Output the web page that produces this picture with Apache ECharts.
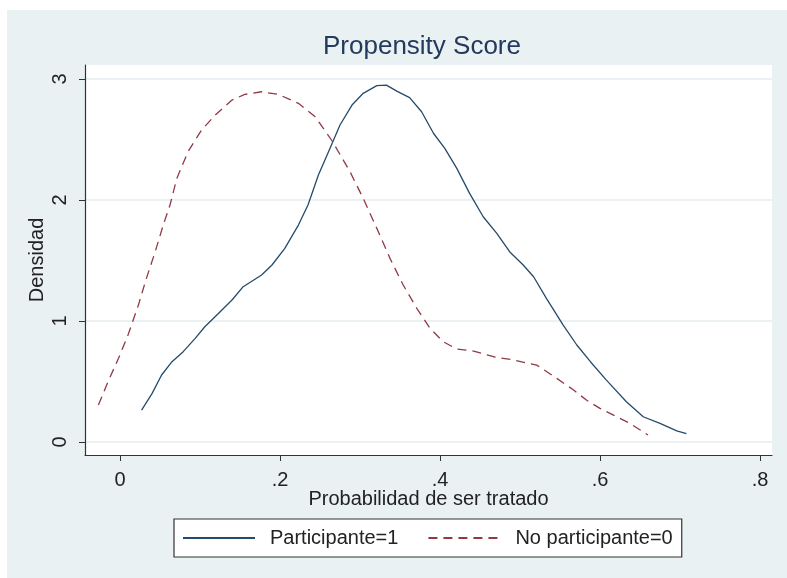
<!DOCTYPE html>
<html>
<head>
<meta charset="utf-8">
<script src="https://cdn.jsdelivr.net/npm/echarts@6/dist/echarts.min.js"></script>
<style>
    html, body { margin: 0; padding: 0; background: #fff; }
    #main { width: 787px; height: 578px; }
</style>
</head>
<body>
<div id="main"></div>
<script>
    // kernel density, Participante=1 (solid)
    var partX = [0.027, 0.040, 0.052, 0.065, 0.079, 0.094, 0.106, 0.123, 0.140, 0.154, 0.177, 0.190, 0.206, 0.223, 0.235, 0.248, 0.262, 0.275, 0.290, 0.304, 0.321, 0.333, 0.346, 0.362, 0.377, 0.392, 0.406, 0.421, 0.437, 0.454, 0.471, 0.487, 0.504, 0.517, 0.533, 0.554, 0.571, 0.588, 0.608, 0.633, 0.654, 0.675, 0.696, 0.708];
    var partY = [0.264, 0.40, 0.554, 0.664, 0.747, 0.857, 0.953, 1.063, 1.174, 1.284, 1.38, 1.463, 1.60, 1.793, 1.959, 2.207, 2.42, 2.62, 2.785, 2.882, 2.945, 2.95, 2.90, 2.846, 2.73, 2.55, 2.427, 2.262, 2.055, 1.862, 1.725, 1.573, 1.463, 1.366, 1.187, 0.967, 0.802, 0.664, 0.512, 0.333, 0.209, 0.154, 0.093, 0.07];

    // No participante=0 (dashed)
    var noPartX = [-0.027, -0.015, -0.002, 0.010, 0.023, 0.033, 0.044, 0.054, 0.0625, 0.071, 0.085, 0.102, 0.119, 0.140, 0.156, 0.177, 0.198, 0.223, 0.244, 0.265, 0.2875, 0.304, 0.321, 0.3375, 0.354, 0.371, 0.3875, 0.404, 0.421, 0.442, 0.467, 0.492, 0.521, 0.546, 0.567, 0.583, 0.600, 0.621, 0.6375, 0.660];
    var noPartY = [0.306, 0.498, 0.69, 0.884, 1.132, 1.353, 1.573, 1.793, 1.959, 2.179, 2.40, 2.579, 2.702, 2.826, 2.873, 2.895, 2.873, 2.799, 2.689, 2.49, 2.234, 2.014, 1.766, 1.518, 1.298, 1.105, 0.94, 0.829, 0.769, 0.752, 0.705, 0.678, 0.636, 0.526, 0.43, 0.347, 0.278, 0.209, 0.154, 0.058];

    var xTicks = [0, 0.2, 0.4, 0.6, 0.8];
    var yTicks = [0, 1, 2, 3];

    function zip (xs, ys) {
        return xs.map(function (x, i) { return [x, ys[i]] })
    }

    var font = 'Liberation Sans, Arial, sans-serif';
    var chart = echarts.init(document.getElementById('main'));

    var option = {
        animation: false,
        backgroundColor: '#ffffff',
        textStyle: { fontFamily: font },
        graphic: [
            {
                type: 'rect',
                z: -10,
                shape: { x: 7, y: 10, width: 780, height: 568 },
                style: { fill: '#e9f1f3' },
                silent: true
            }
        ],
        title: {
            text: 'Propensity Score',
            left: 323,
            top: 34,
            padding: 0,
            textStyle: { fontFamily: font, fontSize: 26, fontWeight: 'normal', color: '#233a5e' }
        },
        grid: {
            left: 85,
            right: 15,
            top: 65,
            bottom: 123,
            show: true,
            backgroundColor: '#ffffff',
            borderWidth: 0
        },
        xAxis: {
            type: 'value',
            min: -0.04375,
            max: 0.815,
            name: 'Probabilidad de ser tratado',
            nameLocation: 'middle',
            nameGap: 34,
            nameMoveOverlap: false,
            nameTextStyle: { fontFamily: font, fontSize: 20, color: '#222' },
            axisLine: { show: true, onZero: false, lineStyle: { color: '#333', width: 1.2 } },
            axisTick: { show: true, length: 6, customValues: xTicks, lineStyle: { color: '#333' } },
            axisLabel: {
                customValues: xTicks,
                fontSize: 20,
                color: '#222',
                margin: 15,
                formatter: function (v) {
                    if (v === 0) return '0';
                    return String(+v.toFixed(1)).replace(/^0/, '');
                }
            },
            splitLine: { show: false }
        },
        yAxis: {
            type: 'value',
            min: -0.107,
            max: 3.116,
            name: 'Densidad',
            nameLocation: 'middle',
            nameGap: 38,
            nameMoveOverlap: false,
            nameTextStyle: { fontFamily: font, fontSize: 20, color: '#222' },
            axisLine: { show: true, onZero: false, lineStyle: { color: '#333', width: 1.2 } },
            axisTick: { show: true, length: 6, customValues: yTicks, lineStyle: { color: '#333' } },
            axisLabel: {
                customValues: yTicks,
                rotate: 90,
                fontSize: 20,
                color: '#222',
                margin: 15
            },
            splitLine: { show: true, lineStyle: { color: '#e6eef1', width: 1.5 } }
        },
        legend: {
            left: 174,
            top: 519,
            padding: [9, 9, 9, 8],
            itemGap: 29,
            itemWidth: 72,
            itemHeight: 2,
            itemStyle: { opacity: 0 },
            backgroundColor: '#ffffff',
            borderColor: '#333',
            borderWidth: 1.2,
            borderRadius: 0,
            textStyle: { fontFamily: font, fontSize: 20, color: '#222', padding: [0, 0, 0, 10] },
            data: ['Participante=1', 'No participante=0']
        },
        series: [
            {
                name: 'Participante=1',
                type: 'line',
                showSymbol: false,
                symbol: 'none',
                smooth: false,
                lineStyle: { color: '#244b6c', width: 1.3 },
                itemStyle: { color: '#244b6c' },
                data: zip(partX, partY)
            },
            {
                name: 'No participante=0',
                type: 'line',
                showSymbol: false,
                symbol: 'none',
                smooth: false,
                lineStyle: { color: '#8f3a44', width: 1.3, type: [9, 6] },
                itemStyle: { color: '#8f3a44' },
                data: zip(noPartX, noPartY)
            }
        ]
    };

    chart.setOption(option);
</script>
</body>
</html>
